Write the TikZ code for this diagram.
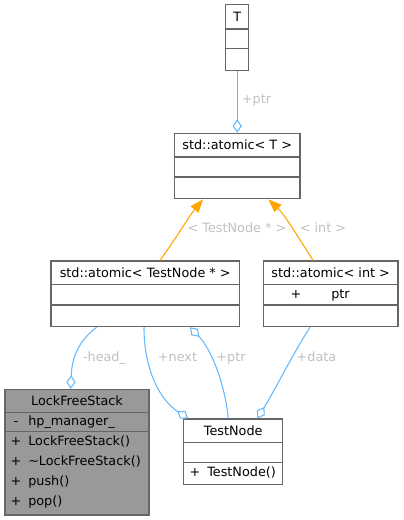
\documentclass[tikz,border=0pt]{standalone}
\usepackage{fontspec}
\setmainfont{DejaVu Sans}
\usepackage{xcolor}
\usetikzlibrary{arrows.meta,positioning}

\definecolor{edgeblue}{HTML}{63B8FF}
\definecolor{edgeorange}{HTML}{FFA500}
\definecolor{labelgrey}{HTML}{C0C0C0}
\definecolor{boxline}{HTML}{666666}
\definecolor{boxfill}{HTML}{999999}

\tikzset{
    classbox/.style={rectangle, draw=boxline, line width=0.9pt, inner sep=0pt},
    rowtext/.style={inner sep=0pt, anchor=base west},
    titletext/.style={inner sep=0pt, anchor=base},
    uses/.style={draw=edgeblue, line width=0.8pt, {Diamond[open, length=10pt, width=7pt]}-},
    inherits/.style={draw=edgeorange, line width=0.8pt, -{Triangle[length=10pt, width=7.5pt]}},
    edgelabel/.style={text=labelgrey, inner sep=0pt, anchor=base}
}

\begin{document}
\begin{tikzpicture}[x=0.75pt, y=-0.75pt, font=\fontsize{9.6}{11}\selectfont]
    \useasboundingbox (0,0) rectangle (403,520);

    % class boxes
    \node(tparam) [classbox, minimum width = 23*0.75pt, minimum height = 66*0.75pt] at (237.2,37.7) {};
    \node(atomT) [classbox, minimum width = 125.7*0.75pt, minimum height = 65.4*0.75pt] at (237.2,166) {};
    \node(atomNode) [classbox, minimum width = 188.3*0.75pt, minimum height = 65.7*0.75pt] at (145.2,293.8) {};
    \node(atomInt) [classbox, minimum width = 134.7*0.75pt, minimum height = 65.7*0.75pt] at (330.7,293.8) {};
    \node(stack) [classbox, fill=boxfill, minimum width = 144*0.75pt, minimum height = 125.7*0.75pt] at (77,452.2) {};
    \node(testNode) [classbox, minimum width = 99*0.75pt, minimum height = 65.3*0.75pt] at (233.2,451.7) {};

    % row separators
    \draw[boxline, line width=0.9pt] (225.7,29) -- (248.7,29) (225.7,48.7) -- (248.7,48.7);
    \draw[boxline, line width=0.9pt] (174.3,157) -- (300,157) (174.3,177) -- (300,177);
    \draw[boxline, line width=0.9pt] (51,284.3) -- (239.3,284.3) (51,305) -- (239.3,305);
    \draw[boxline, line width=0.9pt] (263.3,284.3) -- (398,284.3) (263.3,305) -- (398,305);
    \draw[boxline, line width=0.9pt] (5,412.3) -- (149,412.3) (5,431.7) -- (149,431.7);
    \draw[boxline, line width=0.9pt] (183.7,442.3) -- (282.7,442.3) (183.7,462.3) -- (282.7,462.3);

    % titles and members
    \node(tparamName) [titletext] at (237.2,21.5) {T};
    \node(atomTName) [titletext] at (237.2,149.5) {std::atomic< T >};
    \node(atomNodeName) [titletext] at (145.2,277) {std::atomic< TestNode * >};
    \node(atomIntName) [titletext] at (330.7,277) {std::atomic< int >};
    \node(atomIntPlus) [titletext] at (296,298) {+};
    \node(atomIntPtr) [rowtext] at (331,298) {ptr};
    \node(stackName) [titletext] at (77,405) {LockFreeStack};
    \node(stackAttrSign) [titletext] at (16,425) {-};
    \node(stackAttr) [rowtext] at (28,425) {hp\_manager\_};
    \foreach \y/\m [count=\i] in {445/LockFreeStack(), 465/\textasciitilde LockFreeStack(), 485/push(), 505/pop()} {
        \node(stackSign\i) [titletext] at (16,\y) {+};
        \node(stackOp\i) [rowtext] at (28,\y) {\m};
    }
    \node(testNodeName) [titletext] at (233.2,435.5) {TestNode};
    \node(testNodeSign) [titletext] at (195,476) {+};
    \node(testNodeOp) [rowtext] at (207,476) {TestNode()};

    % template instantiation
    \draw[inherits] (atomNode.north -| 160,0) .. controls (175,240) and (190,215) .. (atomT.south -| 203,0);
    \draw[inherits] (atomInt.north -| 313,0) .. controls (300,240) and (285,215) .. (atomT.south -| 268.3,0);
    \node(lblTestNode) [edgelabel] at (237,232) {< TestNode * >};
    \node(lblInt) [edgelabel] at (323,232) {< int >};

    % usage relations
    \draw[uses] (atomT.north) -- (tparam.south);
    \node(lblPtrT) [edgelabel, anchor=base west] at (241.7,104) {+ptr};
    \draw[uses] (stack.north -| 70.7,0) .. controls (72,355) and (80,340) .. (atomNode.south -| 96.7,0);
    \node(lblHead) [edgelabel] at (104.5,361) {-head\_};
    \draw[uses] (testNode.north -| 188.3,0) .. controls (160,400) and (144,370) .. (atomNode.south -| 144,0);
    \node(lblNext) [edgelabel] at (177.5,361) {+next};
    \draw[uses] (atomNode.south -| 190,0) .. controls (212,350) and (225,385) .. (testNode.north -| 228.3,0);
    \node(lblPtr) [edgelabel] at (231,361) {+ptr};
    \draw[uses] (testNode.north -| 257.3,0) .. controls (275,390) and (295,350) .. (atomInt.south -| 310,0);
    \node(lblData) [edgelabel] at (316.5,361) {+data};
\end{tikzpicture}
\end{document}
